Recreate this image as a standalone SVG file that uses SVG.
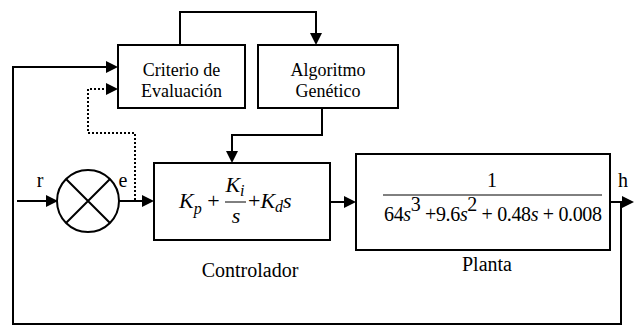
<svg xmlns="http://www.w3.org/2000/svg" width="634" height="327" viewBox="0 0 634 327">
<style>
.box{fill:#fff;stroke:#000;stroke-width:2}
.ln{fill:none;stroke:#000;stroke-width:2}
.dot{fill:none;stroke:#000;stroke-width:2;stroke-dasharray:2 2}
.ah{fill:#000}
</style>
<g id="connectors">
<path class="ln" d="M180,45 V12 H316 V34"/>
<polygon class="ah" points="310,33 322,33 316,45"/>
<path class="ln" d="M621,202 V324 H13 V67 H107"/>
<polygon class="ah" points="106,61 106,73 118,67"/>
<path class="dot" d="M135,200 V133 H88 V89 H107"/>
<polygon class="ah" points="106,83 106,95 118,89"/>
<path class="ln" d="M322,108 V135 H232 V152"/>
<polygon class="ah" points="226,151 238,151 232,163"/>
<path class="ln" d="M17,201 H47"/>
<polygon class="ah" points="46,195 46,207 58,201"/>
<path class="ln" d="M119,201 H143"/>
<polygon class="ah" points="142,195 142,207 154,201"/>
<path class="ln" d="M330,202 H345"/>
<polygon class="ah" points="344,196 344,208 356,202"/>
<path class="ln" d="M610,202 H623"/>
<polygon class="ah" points="622,196 622,208 634,202"/>
</g>
<g id="criterio">
<rect class="box" x="118" y="45" width="127" height="63"/>
<text font-family="Liberation Serif" font-size="18" text-anchor="middle" x="181.5" y="76">Criterio de</text>
<text font-family="Liberation Serif" font-size="18" text-anchor="middle" x="181.5" y="97">Evaluaci&#243;n</text>
</g>
<g id="algoritmo">
<rect class="box" x="258" y="45" width="140" height="63"/>
<text font-family="Liberation Serif" font-size="18" text-anchor="middle" x="328" y="76">Algoritmo</text>
<text font-family="Liberation Serif" font-size="18" text-anchor="middle" x="328" y="97">Gen&#233;tico</text>
</g>
<g id="suma">
<circle cx="88" cy="201" r="31" fill="#fff" stroke="#000" stroke-width="2"/>
<path class="ln" d="M66,179 L110,223 M110,179 L66,223"/>
<text font-family="Liberation Serif" font-size="20" text-anchor="middle" x="40" y="187">r</text>
<text font-family="Liberation Serif" font-size="20" text-anchor="middle" x="123" y="187">e</text>
</g>
<g id="controlador">
<rect class="box" x="154" y="163" width="176" height="77"/>
<text font-family="Liberation Serif" font-size="22" x="179" y="208"><tspan font-style="italic">K</tspan><tspan font-style="italic" font-size="16" dy="6">p</tspan><tspan dy="-6"> +</tspan></text>
<text font-family="Liberation Serif" font-size="22" x="235" y="192" text-anchor="middle"><tspan font-style="italic">K</tspan><tspan font-style="italic" font-size="16" dy="4">i</tspan></text>
<line x1="225" y1="202" x2="246" y2="202" stroke="#000" stroke-width="1"/>
<text font-family="Liberation Serif" font-size="22" font-style="italic" x="236" y="223" text-anchor="middle">s</text>
<text font-family="Liberation Serif" font-size="22" x="248" y="208"><tspan>+</tspan><tspan font-style="italic">K</tspan><tspan font-style="italic" font-size="16" dy="4">d</tspan><tspan font-style="italic" dy="-4">s</tspan></text>
<text font-family="Liberation Serif" font-size="20" text-anchor="middle" x="250" y="277">Controlador</text>
</g>
<g id="planta">
<rect class="box" x="356" y="154" width="254" height="96"/>
<text font-family="Liberation Serif" font-size="20" x="492" y="187" text-anchor="middle">1</text>
<line x1="383" y1="195" x2="602" y2="195" stroke="#000" stroke-width="1"/>
<text font-family="Liberation Serif" font-size="20" x="384" y="221" textLength="218" lengthAdjust="spacing">64<tspan font-style="italic">s</tspan><tspan dy="-10">3</tspan><tspan dy="10"> +9.6</tspan><tspan font-style="italic">s</tspan><tspan dy="-10">2</tspan><tspan dy="10"> + 0.48</tspan><tspan font-style="italic">s</tspan><tspan> + 0.008</tspan></text>
<text font-family="Liberation Serif" font-size="20" text-anchor="middle" x="487" y="271">Planta</text>
<text font-family="Liberation Serif" font-size="20" text-anchor="middle" x="623" y="187">h</text>
</g>
</svg>
